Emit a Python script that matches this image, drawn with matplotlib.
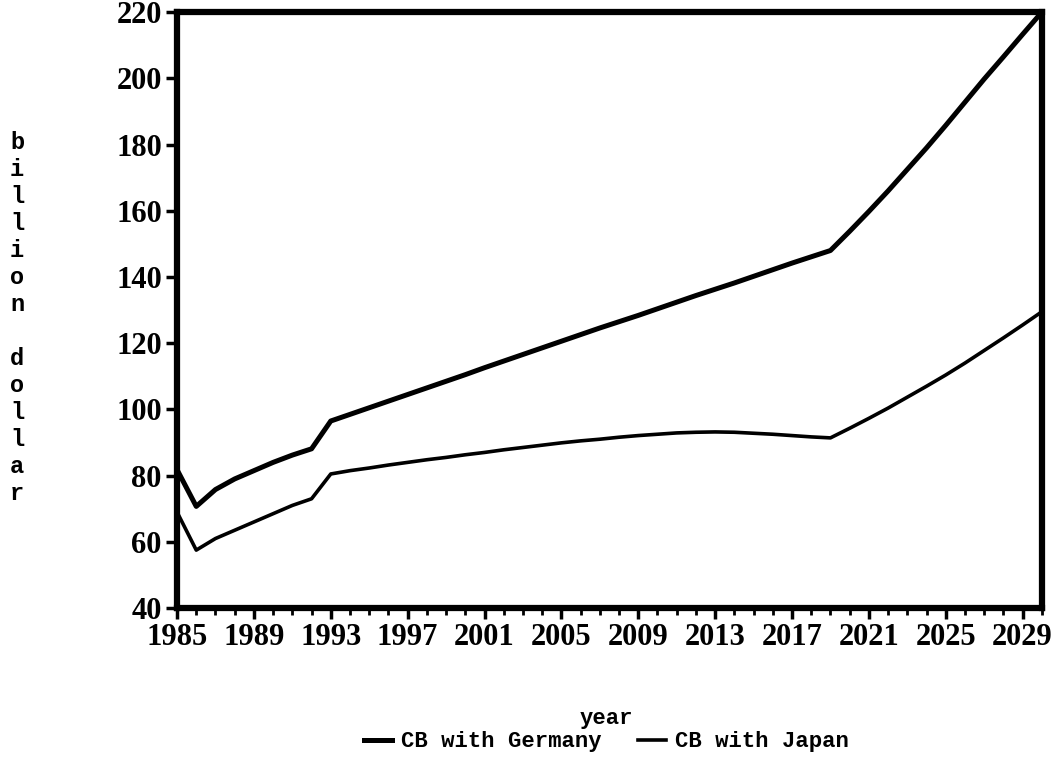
import numpy as np
import matplotlib
matplotlib.use("Agg")
import matplotlib.pyplot as plt
from matplotlib.ticker import MultipleLocator

# data (billion dollar)
years = np.arange(1985, 2031)

germany = [81.8, 70.7, 75.8, 79.0, 81.5, 84.0, 86.2, 88.1, 96.5, 98.5,
           100.5, 102.5, 104.5, 106.5, 108.5, 110.5, 112.6, 114.6, 116.6, 118.6,
           120.6, 122.6, 124.6, 126.5, 128.4, 130.4, 132.4, 134.4, 136.3, 138.2,
           140.2, 142.2, 144.2, 146.1, 148.0, 153.8, 159.8, 166.0, 172.5, 179.0,
           185.8, 192.8, 199.8, 206.5, 213.3, 220.0]

japan = [69.0, 57.5, 61.0, 63.5, 66.0, 68.5, 71.0, 73.0, 80.5, 81.5,
         82.3, 83.2, 84.0, 84.8, 85.5, 86.3, 87.0, 87.8, 88.5, 89.2,
         89.9, 90.5, 91.0, 91.6, 92.1, 92.5, 92.9, 93.1, 93.2, 93.1,
         92.8, 92.5, 92.1, 91.7, 91.4, 94.3, 97.3, 100.4, 103.7, 107.0,
         110.4, 114.0, 117.8, 121.6, 125.5, 129.5]

xticks = np.arange(1985, 2030, 4)
yticks = np.arange(40, 221, 20)

fig = plt.figure(figsize=(10.62, 7.61), dpi=100)
ax = fig.add_axes([0.1667, 0.201, 0.8143, 0.783])

l1, = ax.plot(years, germany, 'k', lw=3.6, solid_joinstyle='round', label='CB with Germany')
l2, = ax.plot(years, japan, 'k', lw=2.6, solid_joinstyle='round', label='CB with Japan')

ax.set_xlim(1985, 2030)
ax.set_ylim(40, 220)
ax.set_xticks(xticks)
ax.set_yticks(yticks)
ax.xaxis.set_minor_locator(MultipleLocator(1))

for s in ax.spines.values():
    s.set_linewidth(4.5)

tickfont = dict(family='Liberation Serif', weight='bold', size=22)
ax.tick_params(axis='both', which='major', direction='out', length=8, width=2.5, pad=3)
ax.tick_params(axis='x', which='minor', direction='out', length=5, width=2)
ax.set_xticklabels([str(t) for t in xticks], **tickfont)
ax.set_yticklabels([str(t) for t in yticks], **tickfont)

mono = dict(family='Liberation Mono', weight='bold')

fig.text(0.016, 0.582, '\n'.join(list('billion dollar')), ha='center', va='center',
         fontsize=17, linespacing=1.22, **mono)
fig.text(0.571, 0.056, 'year', ha='center', va='center', fontsize=16, **mono)

fig.legend(handles=[l1, l2], loc='center', bbox_to_anchor=(0.571, 0.025), ncol=2,
           frameon=False, handlelength=1.3, handletextpad=0.4, columnspacing=1.6,
           prop=dict(family='Liberation Mono', weight='bold', size=16))

fig.savefig('out.png', dpi=100)
